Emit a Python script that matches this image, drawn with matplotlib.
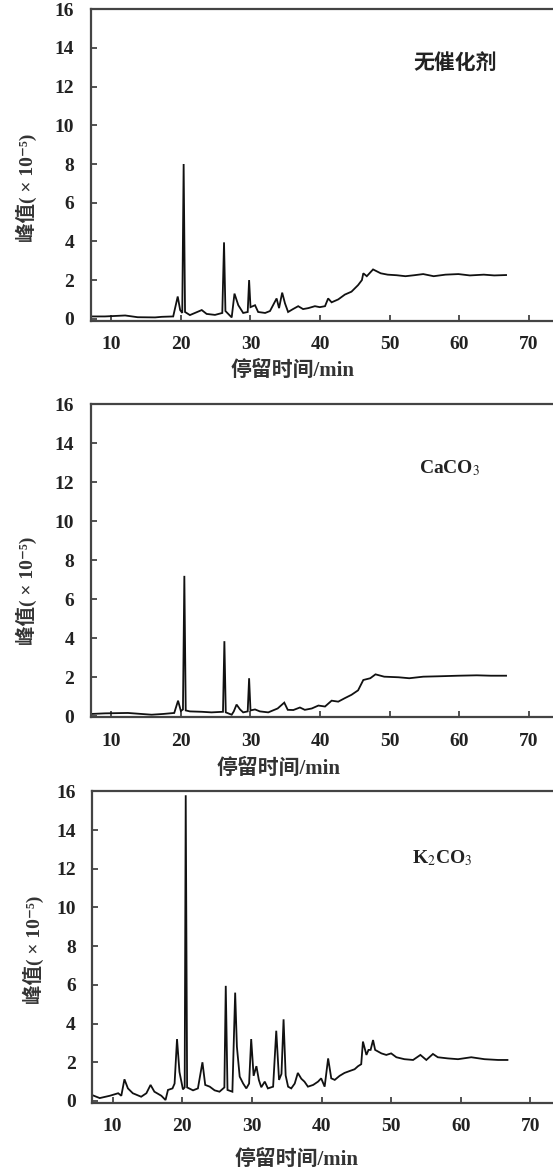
"""
GC-MS total ion chromatograms: no catalyst vs CaCO3 vs K2CO3.
"""
import matplotlib
matplotlib.use('Agg')
import matplotlib.pyplot as plt

plt.rcParams['font.family'] = ['Liberation Serif', 'Noto Sans CJK SC', 'DejaVu Sans']
plt.rcParams['mathtext.fontset'] = 'stix'

# ==========================================================================
# Data (retention time in min, peak value in 1e-5)
# ==========================================================================
labels = ['无催化剂', 'CaCO$_3$', 'K$_2$CO$_3$']
x_ticks = [10, 20, 30, 40, 50, 60, 70]
y_ticks = [0, 2, 4, 6, 8, 10, 12, 14, 16]

t_none = [7.1, 9.1, 12.0, 13.8, 16.3, 17.25, 18.9, 19.55, 19.9, 20.2, 20.4, 20.6,
          21.3, 23.0, 23.7, 24.9, 25.95, 26.2, 26.4, 27.3, 27.7, 28.25, 28.95,
          29.6, 29.8, 30.0, 30.65, 31.1, 32.1, 32.8, 33.75, 34.1, 34.55, 34.95,
          35.4, 36.1, 36.85, 37.55, 38.3, 39.25, 39.95, 40.7, 41.15, 41.65, 42.6,
          43.55, 44.5, 45.45, 46.0, 46.2, 46.7, 47.6, 48.7, 49.7, 51.0, 52.25,
          53.5, 54.8, 56.3, 58.0, 59.85, 61.5, 63.5, 65.0, 66.7]
v_none = [0.12, 0.12, 0.17, 0.08, 0.07, 0.1, 0.12, 1.15, 0.45, 0.3, 8.0, 0.35,
          0.19, 0.45, 0.25, 0.2, 0.3, 3.95, 0.4, 0.07, 1.3, 0.7, 0.3,
          0.35, 2.0, 0.6, 0.7, 0.35, 0.3, 0.4, 1.05, 0.55, 1.35, 0.8,
          0.35, 0.5, 0.65, 0.5, 0.55, 0.65, 0.6, 0.65, 1.05, 0.85, 1.0,
          1.25, 1.4, 1.74, 2.0, 2.35, 2.2, 2.55, 2.35, 2.28, 2.25, 2.2,
          2.25, 2.31, 2.2, 2.28, 2.31, 2.24, 2.28, 2.24, 2.26]

t_caco3 = [7.2, 9.1, 12.4, 15.8, 17.5, 19.05, 19.6, 20.0, 20.3, 20.5, 20.7,
           21.3, 23.0, 24.4, 26.05, 26.25, 26.45, 27.3, 27.6, 28.0, 28.5, 28.95,
           29.6, 29.8, 30.0, 30.65, 31.35, 32.55, 33.9, 34.85, 35.35, 36.15,
           37.1, 37.8, 38.8, 39.75, 40.7, 41.65, 42.6, 43.55, 44.5, 45.45, 46.2,
           47.2, 47.95, 49.2, 51.25, 52.8, 54.8, 57.0, 59.85, 62.5, 64.5, 66.7]
v_caco3 = [0.12, 0.15, 0.17, 0.08, 0.12, 0.17, 0.8, 0.27, 0.35, 7.2, 0.3,
           0.25, 0.23, 0.2, 0.23, 3.85, 0.2, 0.08, 0.25, 0.6, 0.35, 0.2,
           0.25, 1.95, 0.3, 0.35, 0.25, 0.2, 0.4, 0.7, 0.33, 0.32,
           0.45, 0.33, 0.4, 0.55, 0.5, 0.8, 0.75, 0.93, 1.1, 1.33, 1.86,
           1.95, 2.15, 2.03, 2.0, 1.95, 2.03, 2.05, 2.08, 2.1, 2.08, 2.08]

t_k2co3 = [7.1, 8.15, 9.6, 10.8, 11.25, 11.7, 12.2, 12.9, 14.1, 14.85, 15.45,
           16.0, 17.0, 17.6, 17.95, 18.6, 18.9, 19.25, 19.6, 20.1, 20.35, 20.5,
           20.7, 21.55, 22.25, 22.9, 23.3, 23.95, 24.65, 25.35, 26.05, 26.25,
           26.5, 27.2, 27.6, 27.85, 28.25, 28.75, 29.2, 29.6, 29.9, 30.25, 30.65,
           31.0, 31.35, 31.85, 32.3, 33.05, 33.5, 33.9, 34.25, 34.55, 34.85,
           35.2, 35.65, 36.15, 36.6, 37.1, 37.55, 38.05, 38.8, 39.5, 39.95,
           40.45, 40.95, 41.4, 41.9, 42.6, 43.3, 44.05, 44.75, 45.25, 45.7,
           45.95, 46.45, 46.75, 47.05, 47.4, 47.7, 48.6, 49.3, 50.0, 50.75,
           51.9, 53.15, 54.2, 55.05, 56.0, 56.7, 58.15, 59.6, 61.5, 63.4,
           65.35, 66.7]
v_k2co3 = [0.3, 0.15, 0.27, 0.4, 0.27, 1.12, 0.65, 0.4, 0.22, 0.4, 0.83,
           0.48, 0.27, 0.05, 0.57, 0.65, 0.9, 3.2, 1.5, 0.6, 0.7, 15.8,
           0.7, 0.55, 0.65, 2.0, 0.83, 0.74, 0.55, 0.48, 0.7, 5.95,
           0.57, 0.48, 5.6, 2.8, 1.26, 0.9, 0.65, 0.9, 3.2, 1.3, 1.8,
           1.09, 0.71, 1.0, 0.65, 0.74, 3.63, 1.09, 1.4, 4.22, 1.32,
           0.74, 0.65, 0.9, 1.45, 1.15, 1.0, 0.74, 0.83, 1.0, 1.17,
           0.74, 2.2, 1.17, 1.09, 1.3, 1.45, 1.55, 1.64, 1.8, 1.9,
           3.07, 2.38, 2.64, 2.64, 3.15, 2.64, 2.46, 2.38, 2.46, 2.26,
           2.16, 2.12, 2.38, 2.12, 2.43, 2.26, 2.2, 2.16, 2.26, 2.16,
           2.12, 2.12]


def plot_chromatograms():
    fig = plt.figure(figsize=(5.53, 11.7), dpi=100)

    # axes boxes in figure fraction: [left, bottom, width, height]
    boxes = [
        [0.1646, 0.7259, 0.8752, 0.2662],
        [0.1646, 0.3868, 0.8752, 0.2677],
        [0.1671, 0.0575, 0.8752, 0.2661],
    ]
    series = [(t_none, v_none), (t_caco3, v_caco3), (t_k2co3, v_k2co3)]
    ylims = [(-0.1, 16.0), (-0.06, 16.0), (-0.09, 16.0)]
    text_pos = [(0.752, 0.824), (0.74, 0.797), (0.722, 0.786)]
    xlabel_pos = [(0.417, -0.128), (0.388, -0.131), (0.421, -0.152)]
    ylabel_pos = [(-0.112, 0.428), (-0.112, 0.404), (-0.100, 0.49)]

    for i in range(3):
        ax = fig.add_axes(boxes[i])
        t, v = series[i]
        ax.plot(t, v, color='#111111', linewidth=1.3, solid_joinstyle='miter')

        ax.set_xlim(7.1, 76.6)
        ax.set_ylim(*ylims[i])
        ax.set_xticks(x_ticks)
        ax.set_yticks(y_ticks)

        for s in ax.spines.values():
            s.set_color('#444444')
            s.set_linewidth(1.6)
        ax.tick_params(direction='in', length=4, width=1.3, color='#444444',
                       labelsize=14, labelcolor='#222222')
        ax.tick_params(axis='y', pad=12)
        ax.tick_params(axis='x', pad=11)
        for lbl in ax.get_xticklabels() + ax.get_yticklabels():
            lbl.set_fontweight('bold')

        ax.set_xlabel('停留时间/min', fontsize=15, fontweight='bold', color='#333333')
        ax.xaxis.set_label_coords(*xlabel_pos[i])
        ax.set_ylabel('峰值( × 10⁻⁵)', fontsize=14, fontweight='bold', color='#333333')
        ax.yaxis.set_label_coords(*ylabel_pos[i])

        ax.text(text_pos[i][0], text_pos[i][1], labels[i], transform=ax.transAxes,
                fontsize=15 if i == 0 else 14, fontweight='bold', color='#222222',
                ha='center', va='center')

    fig.savefig('out.png', dpi=100)
    plt.close(fig)


if __name__ == '__main__':
    plot_chromatograms()
